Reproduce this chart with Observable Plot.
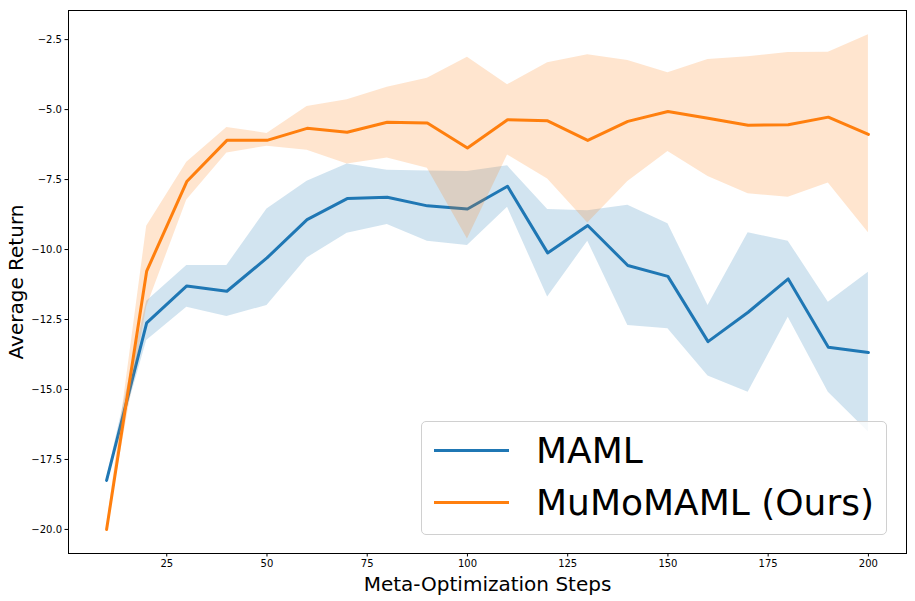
<!DOCTYPE html>
<html>
<head>
<meta charset="utf-8">
<script src="https://cdn.jsdelivr.net/npm/d3@7"></script>
<script src="https://cdn.jsdelivr.net/npm/@observablehq/plot@0.6"></script>
<style>
  body { margin: 0; background: #fff; font-family: "DejaVu Sans", sans-serif; }
  #wrap { position: relative; width: 915px; height: 601px; }
  #legend {
    position: absolute; left: 421px; top: 421px; width: 464px; height: 112px;
    border: 1px solid #d0d0d0; border-radius: 5px; background: rgba(255,255,255,0.8);
    font-family: "DejaVu Sans", sans-serif; font-size: 36px; color: #000;
  }
  .row { position: absolute; left: 0; height: 44px; display: flex; align-items: center; }
  .sw { width: 75px; height: 3px; margin-left: 12px; margin-right: 27px; }
</style>
</head>
<body>
<div id="wrap"></div>
<script>
const steps = [10,20,30,40,50,60,70,80,90,100,110,120,130,140,150,160,170,180,190,200];
const mamlMean = [-18.25,-12.62,-11.30,-11.49,-10.30,-8.93,-8.18,-8.13,-8.44,-8.55,-7.74,-10.12,-9.14,-10.57,-10.96,-13.29,-12.24,-11.05,-13.49,-13.68];
const mamlHigh = [-18.2,-11.85,-10.57,-10.57,-8.55,-7.56,-6.94,-7.17,-7.19,-7.21,-7.01,-8.57,-8.61,-8.42,-9.08,-12.0,-9.40,-9.70,-11.88,-10.81];
const mamlLow  = [-18.3,-13.25,-12.06,-12.39,-12.0,-10.30,-9.42,-9.11,-9.70,-9.86,-8.49,-11.70,-9.70,-12.71,-12.83,-14.52,-15.1,-12.42,-15.1,-16.52];
const mumoMean = [-20.0,-10.77,-7.57,-6.10,-6.10,-5.67,-5.81,-5.45,-5.48,-6.37,-5.36,-5.40,-6.10,-5.42,-5.07,-5.31,-5.56,-5.54,-5.27,-5.89];
const mumoHigh = [-19.95,-9.17,-6.88,-5.64,-5.85,-4.89,-4.65,-4.20,-3.88,-3.13,-4.11,-3.33,-3.04,-3.25,-3.68,-3.21,-3.11,-2.96,-2.95,-2.33];
const mumoLow  = [-20.05,-12.05,-8.23,-6.55,-6.31,-6.45,-6.94,-6.73,-7.10,-9.62,-6.62,-7.48,-9.05,-7.57,-6.50,-7.39,-8.01,-8.13,-7.62,-9.40];
const seriesNames = ["MAML", "MuMoMAML (Ours)"];
const seriesColors = ["#1f77b4", "#ff7f0e"];
const xTicks = [25,50,75,100,125,150,175,200];
const yTicks = [-20,-17.5,-15,-12.5,-10,-7.5,-5,-2.5];
const xLabel = "Meta-Optimization Steps";
const yLabel = "Average Return";

const maml = steps.map((s,i) => ({step: s, mean: mamlMean[i], lo: mamlLow[i], hi: mamlHigh[i]}));
const mumo = steps.map((s,i) => ({step: s, mean: mumoMean[i], lo: mumoLow[i], hi: mumoHigh[i]}));
const fmt = d => (d < 0 ? "\u2212" : "") + Math.abs(d).toFixed(1);

const chart = Plot.plot({
  width: 915, height: 601,
  marginLeft: 68, marginRight: 9, marginTop: 10, marginBottom: 48,
  style: {fontFamily: "DejaVu Sans, sans-serif", background: "#fff", color: "#000"},
  x: {domain: [0.5, 209.5]},
  y: {domain: [-20.86, -1.46]},
  marks: [
    Plot.areaY(maml, {x: "step", y1: "lo", y2: "hi", fill: seriesColors[0], fillOpacity: 0.2}),
    Plot.lineY(maml, {x: "step", y: "mean", stroke: seriesColors[0], strokeWidth: 3}),
    Plot.areaY(mumo, {x: "step", y1: "lo", y2: "hi", fill: seriesColors[1], fillOpacity: 0.2}),
    Plot.lineY(mumo, {x: "step", y: "mean", stroke: seriesColors[1], strokeWidth: 3}),
    Plot.frame({stroke: "#000", strokeWidth: 1}),
    Plot.axisX({ticks: xTicks, tickSize: 3.5, tickPadding: 3, fontSize: 10, label: null}),
    Plot.axisY({ticks: yTicks, tickSize: 3.5, tickPadding: 3, fontSize: 10, label: null, tickFormat: fmt}),
    Plot.text([xLabel], {frameAnchor: "bottom", dy: 31, fontSize: 20, lineAnchor: "middle", textAnchor: "middle", fill: "#000"}),
    Plot.text([yLabel], {frameAnchor: "left", rotate: -90, dx: -52, fontSize: 20, lineAnchor: "middle", textAnchor: "middle", fill: "#000"})
  ]
});

const wrap = document.getElementById("wrap");
wrap.appendChild(chart);
const legend = document.createElement("div");
legend.id = "legend";
seriesNames.forEach((name, i) => {
  const row = document.createElement("div");
  row.className = "row";
  row.style.top = (6 + i * 52) + "px";
  const sw = document.createElement("div");
  sw.className = "sw";
  sw.style.background = seriesColors[i];
  const t = document.createElement("span");
  t.textContent = name;
  row.appendChild(sw); row.appendChild(t);
  legend.appendChild(row);
});
wrap.appendChild(legend);
</script>
</body>
</html>
